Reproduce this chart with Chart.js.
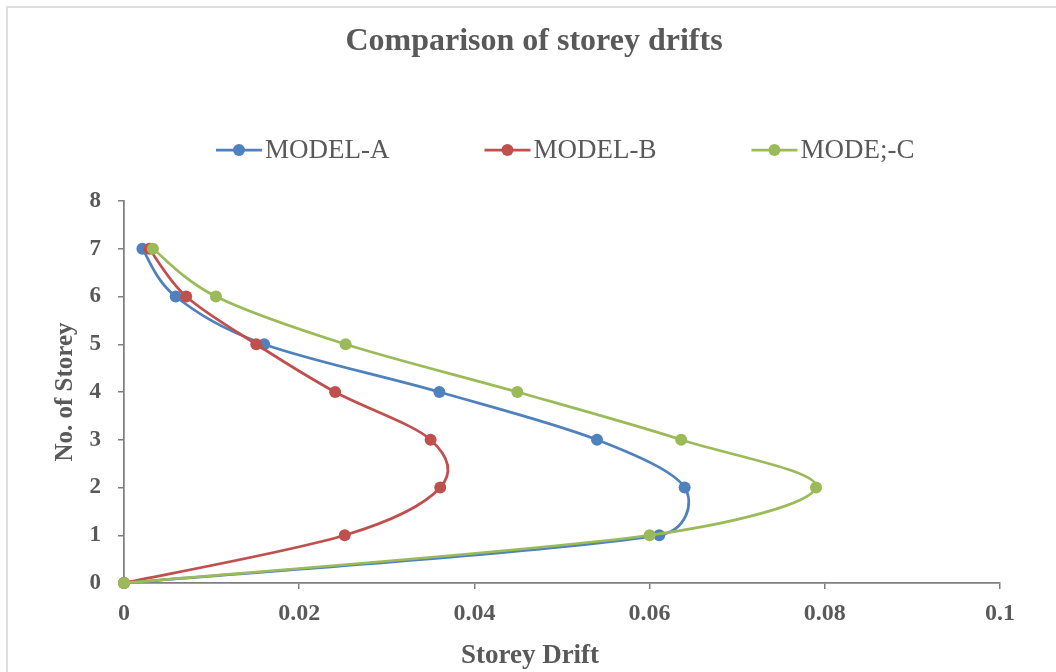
<!DOCTYPE html>
<html>
<head>
<meta charset="utf-8">
<script src="https://cdn.jsdelivr.net/npm/chart.js@4/dist/chart.umd.min.js"></script>
<style>
  html, body { margin: 0; padding: 0; background: #ffffff; overflow: hidden; }
  #wrap { position: relative; width: 1056px; height: 672px; }
  #frame { position: absolute; left: 6px; top: 6px; width: 1100px; height: 800px;
           border: 2px solid #dedede; box-sizing: border-box; }
  canvas { position: absolute; left: 0; top: 0; }
</style>
</head>
<body>
<div id="wrap">
  <div id="frame"></div>
  <canvas id="chart" width="1056" height="672"></canvas>
</div>
<script>
// Storey levels (0 = base) and drift per storey for each model
const storeys = [0, 1, 2, 3, 4, 5, 6, 7];
const driftModelA = [0, 0.0611, 0.0640, 0.0540, 0.0360, 0.0160, 0.0059, 0.0021];
const driftModelB = [0, 0.0252, 0.0361, 0.0350, 0.0241, 0.0151, 0.0071, 0.0029];
const driftModelC = [0, 0.0600, 0.0790, 0.0636, 0.0449, 0.0253, 0.0105, 0.0033];

const seriesNames = ['MODEL-A', 'MODEL-B', 'MODE;-C'];
const seriesColors = ['#4F81BD', '#C0504D', '#9BBB59'];

const xTickValues = [0, 0.02, 0.04, 0.06, 0.08, 0.1];
const xTickLabels = ['0', '0.02', '0.04', '0.06', '0.08', '0.1'];
const yTickValues = [0, 1, 2, 3, 4, 5, 6, 7, 8];
const yTickLabels = ['0', '1', '2', '3', '4', '5', '6', '7', '8'];

const chartTitle = 'Comparison of storey drifts';
const xAxisTitle = 'Storey Drift';
const yAxisTitle = 'No. of Storey';

const SERIF = "'Liberation Serif', 'Times New Roman', serif";
const TEXT = '#595959';
const AXIS = '#7f7f7f';

function toPoints(drifts) {
  return drifts.map((d, i) => ({ x: d, y: storeys[i] }));
}

const allDrifts = [driftModelA, driftModelB, driftModelC];

// later series are painted on top of earlier ones
const datasets = allDrifts.map((drifts, i) => ({
  label: seriesNames[i],
  data: toPoints(drifts),
  order: allDrifts.length - 1 - i,
  clip: false,
  borderColor: seriesColors[i],
  backgroundColor: seriesColors[i],
  pointBackgroundColor: seriesColors[i],
  pointBorderColor: seriesColors[i],
  pointRadius: 6,
  pointBorderWidth: 0,
  borderWidth: 2.75,
  showLine: true,
  tension: 0.4,
  fill: false
}));

// Smoothed-line control points: Catmull-Rom tangents (1/6 of the chord between
// neighbours), with each handle limited to half of its adjacent segment.
const smoothCurve = {
  id: 'smoothCurve',
  beforeDatasetDraw(chart, args) {
    const meta = args.meta;
    const line = meta.dataset;
    if (!line) return;
    const pts = meta.data;
    const n = pts.length;
    for (let i = 0; i < n; i++) {
      const p = pts[i];
      const prev = pts[Math.max(i - 1, 0)];
      const next = pts[Math.min(i + 1, n - 1)];
      const tx = (next.x - prev.x) / 6;
      const ty = (next.y - prev.y) / 6;
      const tl = Math.hypot(tx, ty);
      const dPrev = Math.hypot(p.x - prev.x, p.y - prev.y);
      const dNext = Math.hypot(next.x - p.x, next.y - p.y);
      const sPrev = tl > 0 ? Math.min(1, dPrev * 0.5 / tl) : 0;
      const sNext = tl > 0 ? Math.min(1, dNext * 0.5 / tl) : 0;
      p.cp1x = p.x - tx * sPrev;
      p.cp1y = p.y - ty * sPrev;
      p.cp2x = p.x + tx * sNext;
      p.cp2y = p.y + ty * sNext;
    }
    line._pointsUpdated = true;
    line._path = undefined;
  }
};

// Chart heading, centred on the whole canvas
const headingPlugin = {
  id: 'heading',
  afterDraw(chart) {
    const ctx = chart.ctx;
    ctx.save();
    ctx.font = "bold 32px " + SERIF;
    ctx.fillStyle = TEXT;
    ctx.textAlign = 'center';
    ctx.textBaseline = 'middle';
    ctx.fillText(chartTitle, 534, 42);
    ctx.restore();
  }
};

// Horizontal legend: line-with-marker swatch followed by the series name
const legendPlugin = {
  id: 'lineLegend',
  afterDraw(chart) {
    const ctx = chart.ctx;
    const y = 150;
    const swatch = 46, gapText = 3, gapItem = 95;
    ctx.save();
    ctx.font = "27px " + SERIF;
    let x = 216;
    seriesNames.forEach((name, i) => {
      ctx.strokeStyle = seriesColors[i];
      ctx.lineWidth = 2.75;
      ctx.beginPath();
      ctx.moveTo(x, y);
      ctx.lineTo(x + swatch, y);
      ctx.stroke();
      ctx.fillStyle = seriesColors[i];
      ctx.beginPath();
      ctx.arc(x + swatch / 2, y, 6, 0, Math.PI * 2);
      ctx.fill();
      ctx.fillStyle = TEXT;
      ctx.textBaseline = 'middle';
      ctx.textAlign = 'left';
      ctx.fillText(name, x + swatch + gapText, y + 1);
      x += swatch + gapText + ctx.measureText(name).width + gapItem;
    });
    ctx.restore();
  }
};

// Horizontal axis title, centred on the whole chart
const xTitlePlugin = {
  id: 'xTitle',
  afterDraw(chart) {
    const ctx = chart.ctx;
    ctx.save();
    ctx.font = "bold 27px " + SERIF;
    ctx.fillStyle = TEXT;
    ctx.textAlign = 'center';
    ctx.textBaseline = 'middle';
    ctx.fillText(xAxisTitle, 530, 656);
    ctx.restore();
  }
};

new Chart(document.getElementById('chart'), {
  type: 'scatter',
  data: { datasets },
  plugins: [smoothCurve, headingPlugin, legendPlugin, xTitlePlugin],
  options: {
    responsive: false,
    animation: false,
    layout: { padding: { left: 0, right: 56, top: 201, bottom: 0 } },
    plugins: {
      legend: { display: false },
      tooltip: { enabled: false },
      title: { display: false }
    },
    scales: {
      x: {
        type: 'linear',
        min: 0,
        max: 0.1,
        afterBuildTicks(scale) { scale.ticks = xTickValues.map(v => ({ value: v })); },
        afterFit(scale) { scale.height = 89; },
        ticks: {
          color: TEXT,
          font: { family: SERIF, size: 24, weight: 'bold' },
          padding: 10,
          maxRotation: 0,
          callback: (v, i) => xTickLabels[i]
        },
        grid: { display: true, drawOnChartArea: false, drawTicks: true, tickLength: 6, color: AXIS, lineWidth: 1.5 },
        border: { display: true, color: AXIS, width: 1.75 },
        title: { display: false }
      },
      y: {
        type: 'linear',
        min: 0,
        max: 8,
        afterBuildTicks(scale) { scale.ticks = yTickValues.map(v => ({ value: v })); },
        afterFit(scale) { scale.width = 124; },
        ticks: {
          color: TEXT,
          font: { family: SERIF, size: 23, weight: 'bold' },
          padding: 17,
          callback: (v, i) => yTickLabels[i]
        },
        grid: { display: true, drawOnChartArea: false, drawTicks: true, tickLength: 6, color: AXIS, lineWidth: 1.5 },
        border: { display: true, color: AXIS, width: 1.75 },
        title: {
          display: true,
          text: yAxisTitle,
          color: TEXT,
          font: { family: SERIF, size: 25, weight: 'bold', lineHeight: 1.2 },
          padding: { top: 51, bottom: 0 }
        }
      }
    }
  }
});
</script>
</body>
</html>
